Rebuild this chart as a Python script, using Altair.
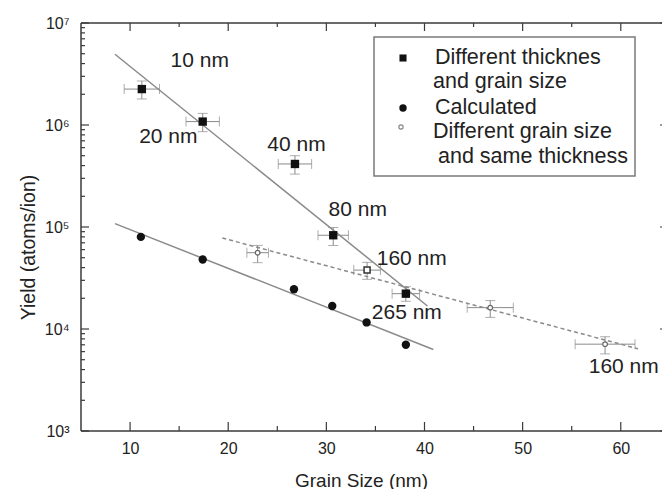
import altair as alt
import pandas as pd

# --- measured data -------------------------------------------------------
# Different thickness and grain size (filled squares)
sq_x = [11.2, 17.4, 26.8, 30.7, 38.1]
sq_y = [2.25e6, 1.08e6, 4.15e5, 8.3e4, 2.22e4]
sq_xerr = [1.8, 1.7, 1.7, 1.55, 1.4]
sq_ylo = [1.8e6, 8.6e5, 3.3e5, 6.6e4, 1.87e4]
sq_yhi = [2.7e6, 1.3e6, 5.0e5, 9.9e4, 2.6e4]

# Calculated (filled circles)
calc_x = [11.1, 17.4, 26.7, 30.6, 34.1, 38.1]
calc_y = [8.0e4, 4.8e4, 2.45e4, 1.68e4, 1.16e4, 7.0e3]

# Different grain size and same thickness (open markers)
open_x = [23.0, 34.15, 46.7, 58.4]
open_y = [5.6e4, 3.78e4, 1.62e4, 7.1e3]
open_xerr = [1.1, 1.36, 2.35, 3.05]
open_ylo = [4.47e4, 3.07e4, 1.3e4, 5.7e3]
open_yhi = [6.6e4, 4.5e4, 1.9e4, 8.4e3]

# Exponential fits (end points)
fit_sq_x = [8.46, 40.3]
fit_sq_y = [4.94e6, 1.68e4]
fit_calc_x = [8.46, 40.9]
fit_calc_y = [1.08e5, 6.3e3]
fit_open_x = [19.4, 61.75]
fit_open_y = [7.8e4, 6.4e3]

# Thickness annotations
ann_text = ["10 nm", "20 nm", "40 nm", "80 nm", "160 nm", "265 nm", "160 nm"]
ann_x = [17.1, 13.9, 26.96, 33.2, 38.7, 38.2, 60.3]
ann_y = [4.2e6, 7.7e5, 6.4e5, 1.48e5, 4.9e4, 1.45e4, 4.2e3]

# Axis ticks
x_major = [10, 20, 30, 40, 50, 60]
x_minor = [15, 25, 35, 45, 55]
y_major = [1e3, 1e4, 1e5, 1e6, 1e7]
y_minor = [m * 10 ** k for k in range(3, 7) for m in range(2, 10)]

# --- layout ----------------------------------------------------------------
W, H = 581, 408
FONT = "Liberation Sans"
AXIS_C = "#3a3a3a"
TEXT_C = "#222222"
FIT_C = "#8a8a8a"
ERR_C = "#8a8a8a"

xscale = alt.Scale(domain=[5, 64.2], zero=False, nice=False)
yscale = alt.Scale(type="log", domain=[1e3, 1e7], nice=False)

y_label_expr = (
    "datum.value == 1000 ? '10\u00b3' : datum.value == 10000 ? '10\u2074' : "
    "datum.value == 100000 ? '10\u2075' : datum.value == 1000000 ? '10\u2076' : '10\u2077'"
)

xaxis = alt.Axis(
    values=x_major, ticks=False, domain=False, grid=False,
    labelFont=FONT, labelFontSize=16, labelColor=TEXT_C, labelPadding=9,
    title="Grain Size (nm)", titleFont=FONT, titleFontSize=19, titleFontWeight="normal",
    titleColor=TEXT_C, titleX=280, titleY=49, titleBaseline="middle",
)
yaxis = alt.Axis(
    values=y_major, ticks=False, domain=False, grid=False,
    labelExpr=y_label_expr, labelFont=FONT, labelFontSize=16, labelColor=TEXT_C,
    labelPadding=12, labelBaseline="middle",
    title="Yield (atoms/ion)", titleFont=FONT, titleFontSize=19.5, titleFontWeight="normal",
    titleColor=TEXT_C, titleX=-53, titleY=224, titleBaseline="middle", titleAngle=-90,
)


def X(f):
    return alt.X(f, type="quantitative", scale=xscale, axis=xaxis)


def Y(f):
    return alt.Y(f, type="quantitative", scale=yscale, axis=yaxis)


sq = pd.DataFrame({
    "x": sq_x, "y": sq_y,
    "xlo": [a - e for a, e in zip(sq_x, sq_xerr)],
    "xhi": [a + e for a, e in zip(sq_x, sq_xerr)],
    "ylo": sq_ylo, "yhi": sq_yhi,
})
op = pd.DataFrame({
    "x": open_x, "y": open_y,
    "xlo": [a - e for a, e in zip(open_x, open_xerr)],
    "xhi": [a + e for a, e in zip(open_x, open_xerr)],
    "ylo": open_ylo, "yhi": open_yhi,
})
calc = pd.DataFrame({"x": calc_x, "y": calc_y})
ann = pd.DataFrame({"x": ann_x, "y": ann_y, "t": ann_text})


def error_bars(df):
    base = alt.Chart(df)
    vbar = base.mark_rule(color=ERR_C, strokeWidth=1).encode(x=X("x"), y=Y("ylo"), y2="yhi")
    hbar = base.mark_rule(color=ERR_C, strokeWidth=1).encode(x=X("xlo"), x2="xhi", y=Y("y"))
    caps = [
        base.mark_tick(orient="horizontal", size=10, thickness=1, color=ERR_C).encode(x=X("x"), y=Y("ylo")),
        base.mark_tick(orient="horizontal", size=10, thickness=1, color=ERR_C).encode(x=X("x"), y=Y("yhi")),
        base.mark_tick(orient="vertical", size=10, thickness=1, color=ERR_C).encode(x=X("xlo"), y=Y("y")),
        base.mark_tick(orient="vertical", size=10, thickness=1, color=ERR_C).encode(x=X("xhi"), y=Y("y")),
    ]
    return [vbar, hbar] + caps


def fit_line(xs, ys, dash=None):
    df = pd.DataFrame({"x": xs, "y": ys})
    kw = dict(color=FIT_C, strokeWidth=1.5)
    if dash:
        kw["strokeDash"] = dash
    return alt.Chart(df).mark_line(**kw).encode(x=X("x"), y=Y("y"))


layers = []
layers.append(fit_line(fit_sq_x, fit_sq_y))
layers.append(fit_line(fit_calc_x, fit_calc_y))
layers.append(fit_line(fit_open_x, fit_open_y, dash=[4, 3]))
layers += error_bars(sq)
layers += error_bars(op)

layers.append(alt.Chart(sq).mark_point(shape="square", filled=True, size=70, color="#111111", opacity=1)
              .encode(x=X("x"), y=Y("y")))
layers.append(alt.Chart(calc).mark_point(shape="circle", filled=True, size=70, color="#111111", opacity=1)
              .encode(x=X("x"), y=Y("y")))
layers.append(alt.Chart(op).transform_filter("datum.x < 33 || datum.x > 35")
              .mark_point(shape="circle", filled=True, size=22, fill="white", stroke="#666666",
                          strokeWidth=1.2, opacity=1)
              .encode(x=X("x"), y=Y("y")))
layers.append(alt.Chart(op).transform_filter("datum.x > 33 && datum.x < 35")
              .mark_point(shape="square", filled=True, size=36, fill="white", stroke="#333333",
                          strokeWidth=1.5, opacity=1)
              .encode(x=X("x"), y=Y("y")))

layers.append(alt.Chart(ann).mark_text(font=FONT, fontSize=21, color=TEXT_C, align="center",
                                       baseline="middle")
              .encode(x=X("x"), y=Y("y"), text="t:N"))

# frame lines (left, top, bottom)
one = pd.DataFrame({"a": [0]})
for enc in [
    dict(x=alt.value(0), y=alt.value(0), y2=alt.value(H)),
    dict(x=alt.value(0), x2=alt.value(W), y=alt.value(0)),
    dict(x=alt.value(0), x2=alt.value(W), y=alt.value(H)),
]:
    layers.append(alt.Chart(one).mark_rule(color=AXIS_C, strokeWidth=1.5).encode(**enc))

# inward ticks
ym = pd.DataFrame({"v": y_major})
yn = pd.DataFrame({"v": y_minor})
xm = pd.DataFrame({"v": x_major})
xn = pd.DataFrame({"v": x_minor})
tick_kw = dict(color=AXIS_C, strokeWidth=1.2)
layers += [
    alt.Chart(ym).mark_rule(**tick_kw).encode(y=Y("v"), x=alt.value(0), x2=alt.value(8)),
    alt.Chart(yn).mark_rule(**tick_kw).encode(y=Y("v"), x=alt.value(0), x2=alt.value(4)),
    alt.Chart(ym).mark_rule(**tick_kw).encode(y=Y("v"), x=alt.value(W - 2), x2=alt.value(W)),
    alt.Chart(xm).mark_rule(**tick_kw).encode(x=X("v"), y=alt.value(H - 9), y2=alt.value(H)),
    alt.Chart(xn).mark_rule(**tick_kw).encode(x=X("v"), y=alt.value(H - 5), y2=alt.value(H)),
    alt.Chart(xm).mark_rule(**tick_kw).encode(x=X("v"), y=alt.value(0), y2=alt.value(8)),
    alt.Chart(xn).mark_rule(**tick_kw).encode(x=X("v"), y=alt.value(0), y2=alt.value(4)),
]

# legend box
LX, LY = 293, 14
layers.append(alt.Chart(one).mark_rect(fill="white", stroke="#7a7a7a", strokeWidth=1.5)
              .encode(x=alt.value(LX), x2=alt.value(LX + 261), y=alt.value(LY), y2=alt.value(LY + 139)))
legend_lines = [
    ("Different thicknes", 354, 35),
    ("and grain size", 352, 59),
    ("Calculated", 354, 85),
    ("Different grain size", 352, 109),
    ("and same thickness", 357, 134),
]
for txt, tx, ty in legend_lines:
    layers.append(alt.Chart(one).mark_text(text=txt, font=FONT, fontSize=21.5, color=TEXT_C,
                                           align="left", baseline="middle")
                  .encode(x=alt.value(tx), y=alt.value(ty)))
layers.append(alt.Chart(one).mark_point(shape="square", filled=True, size=50, color="#111111", opacity=1)
              .encode(x=alt.value(322), y=alt.value(35)))
layers.append(alt.Chart(one).mark_point(shape="circle", filled=True, size=55, color="#111111", opacity=1)
              .encode(x=alt.value(322), y=alt.value(85)))
layers.append(alt.Chart(one).mark_point(shape="circle", filled=True, size=18, fill="white",
                                        stroke="#888888", strokeWidth=1.2, opacity=1)
              .encode(x=alt.value(320), y=alt.value(104)))

chart = (
    alt.layer(*layers)
    .properties(width=W, height=H, background="white",
                padding={"left": 81, "top": 23, "right": 0, "bottom": 58},
                autosize=alt.AutoSizeParams(type="none"))
    .configure_view(stroke=None)
)

chart.save("out.html", embed_options={"renderer": "svg", "actions": False})
